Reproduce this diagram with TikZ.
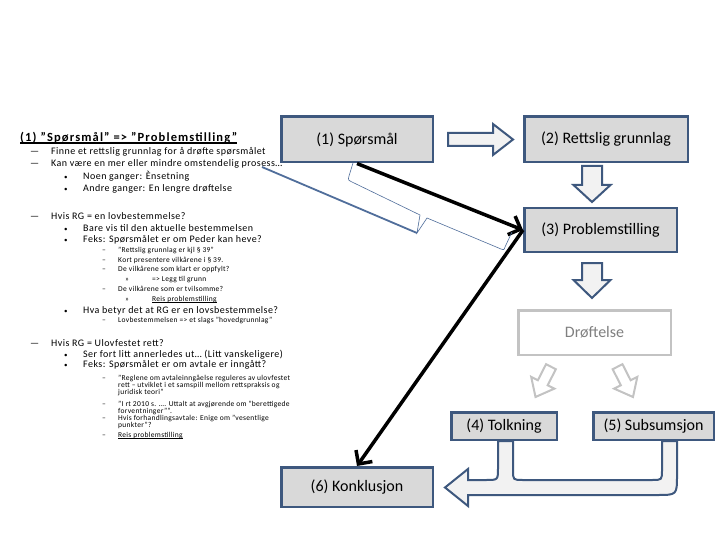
\documentclass[tikz,border=0pt]{standalone}
\usepackage{fontspec}
\setmainfont{Carlito}
\usetikzlibrary{arrows.meta, calc}

\definecolor{boksblaa}{RGB}{62,88,126}
\definecolor{boksgraa}{RGB}{217,217,217}
\definecolor{pilfyll}{RGB}{242,242,242}
\definecolor{svakgraa}{RGB}{195,195,195}
\definecolor{tekstgraa}{RGB}{128,128,128}
\definecolor{kalleblaa}{RGB}{80,110,155}

\newsavebox{\strekboks}
\newcommand{\medstrek}[2]{\sbox{\strekboks}{#2}\rlap{\rule[-1.8pt]{\wd\strekboks}{#1}}\usebox{\strekboks}}
\newcommand{\punkt}{{\fontsize{7}{7}\selectfont•}}

\begin{document}
\begin{tikzpicture}[x=1pt, y=-1pt,
    boks/.style      = {rectangle, draw=boksblaa, line width=2.5pt, fill=boksgraa, inner sep=0pt,
                        font=\fontsize{16}{19}\selectfont},
    svakboks/.style  = {rectangle, draw=svakgraa, line width=2.5pt, fill=white, inner sep=0pt,
                        text=tekstgraa, font=\fontsize{16}{19}\selectfont},
    blokkpil/.style  = {draw=boksblaa, line width=2pt, fill=pilfyll, line join=miter},
    svakpil/.style   = {draw=svakgraa, line width=2pt, fill=white, line join=miter},
    pil/.style       = {-{Straight Barb[length=10pt, width=20pt]}, line width=3.5pt, black},
    kallelinje/.style= {draw=kalleblaa, line width=1.8pt},
    klamme/.style    = {draw=kalleblaa, line width=0.6pt},
    overskrift/.style= {anchor=base west, inner sep=0pt,
                        font=\fontsize{12.5}{14}\selectfont\bfseries\addfontfeature{LetterSpace=9}},
    nivaa1/.style    = {anchor=base west, inner sep=0pt,
                        font=\fontsize{10}{12}\selectfont\addfontfeature{LetterSpace=4.5}},
    nivaa3/.style    = {anchor=base west, inner sep=0pt,
                        font=\fontsize{7.5}{7.2}\selectfont\addfontfeature{LetterSpace=4}},
]

\fill[white] (0,0) rectangle (720,540);
\useasboundingbox (0,0) rectangle (720,540);

% Bokser
\node[boks, minimum width=151.5pt, minimum height=45.5pt] (b1) at (357,139.5) {(1) Spørsmål};
\node[boks, minimum width=163.5pt, minimum height=45.5pt] (b2) at (606,139.5) {(2) Rettslig grunnlag};
\node[boks, minimum width=152.5pt, minimum height=43.5pt] (b3) at (600.5,230) {(3) Problemstilling};
\node[svakboks, minimum width=152.5pt, minimum height=44.5pt] (dr) at (594.5,332.5) {Drøftelse};
\node[boks, minimum width=105.5pt, minimum height=27.5pt] (b4) at (504,426) {(4) Tolkning};
\node[boks, minimum width=120.5pt, minimum height=27.5pt] (b5) at (653.5,426) {(5) Subsumsjon};
\node[boks, minimum width=151.5pt, minimum height=39.5pt] (b6) at (357,487) {(6) Konklusjon};

% Blokkpiler
\draw[blokkpil] ($(b1.east)+(14,-6.5)$) -- ++(45,0) -- ++(0,-9) -- ++(20,15.5) -- ++(-20,15.5)
    -- ++(0,-9) -- ++(-45,0) -- cycle;
\draw[blokkpil] ($(b3.north)+(-8.5,-5)$) -- ++(-18.5,-17) -- ++(8.5,0) -- ++(0,-19) -- ++(20,0)
    -- ++(0,19) -- ++(8.5,0) -- cycle;
\draw[blokkpil] ($(dr.north)+(-2.5,-11)$) -- ++(-18.5,-18) -- ++(8.5,0) -- ++(0,-17) -- ++(20,0)
    -- ++(0,17) -- ++(8.5,0) -- cycle;
\draw[svakpil, shift={($(dr.south)+(-59,41)$)}, rotate=-27]
    (0,0) -- (-13,-16) -- (-5.5,-16) -- (-5.5,-34) -- (5.5,-34) -- (5.5,-16) -- (13,-16) -- cycle;
\draw[svakpil, shift={($(dr.south)+(38.5,41)$)}, rotate=27]
    (0,0) -- (-13,-16) -- (-5.5,-16) -- (-5.5,-34) -- (5.5,-34) -- (5.5,-16) -- (13,-16) -- cycle;

% Bøyd pil fra (4) og (5) til (6)
\draw[blokkpil] (498,441) -- (498,468) .. controls (498,480) .. (486,480) -- (468,480) -- (468,469)
    -- (445,487.5) -- (468,506) -- (468,495) -- (657,495) .. controls (677,495) .. (677,475)
    -- (677,441) -- (662,441) -- (662,470) .. controls (662,480) .. (652,480) -- (523,480)
    .. controls (513,480) .. (513,470) -- (513,441) -- cycle;

% Sorte piler
\draw[pil] (b1.south) -- (b3.west);
\draw[pil] (b3.west) -- (b6.north);

% Tekst
\node[overskrift] (t0) at (20,142) {\medstrek{1.3pt}{(1) ”Spørsmål” => ”Problemstilling”}};
\node[nivaa1] (t1) at (30,155) {\makebox[21pt][l]{—}Finne et rettslig grunnlag for å drøfte spørsmålet};
\node[nivaa1] (t2) at (30,167) {\makebox[21pt][l]{—}Kan være en mer eller mindre omstendelig prosess…};
\node[nivaa1] (t3) at (64,180) {\makebox[19pt][l]{\punkt}Noen ganger: Ènsetning};
\node[nivaa1] (t4) at (64,192) {\makebox[19pt][l]{\punkt}Andre ganger: En lengre drøftelse};

\node[nivaa1] (t5) at (30,219) {\makebox[21pt][l]{—}Hvis RG = en lovbestemmelse?};
\node[nivaa1] (t6) at (64,231) {\makebox[19pt][l]{\punkt}Bare vis til den aktuelle bestemmelsen};
\node[nivaa1] (t7) at (64,242) {\makebox[19pt][l]{\punkt}Feks: Spørsmålet er om Peder kan heve?};
\node[nivaa3] (t8) at (102,252) {\makebox[16pt][l]{–}”Rettslig grunnlag er kjl § 39”};
\node[nivaa3] (t9) at (102,262) {\makebox[16pt][l]{–}Kort presentere vilkårene i § 39.};
\node[nivaa3] (t10) at (102,271) {\makebox[16pt][l]{–}De vilkårene som klart er oppfylt?};
\node[nivaa3] (t11) at (125,281) {\makebox[27pt][l]{»}=> Legg til grunn};
\node[nivaa3] (t12) at (102,291) {\makebox[16pt][l]{–}De vilkårene som er tvilsomme?};
\node[nivaa3] (t13) at (125,301) {\makebox[27pt][l]{»}\medstrek{0.8pt}{Reis problemstilling}};
\node[nivaa1] (t14) at (64,313) {\makebox[19pt][l]{\punkt}Hva betyr det at RG er en lovsbestemmelse?};
\node[nivaa3] (t15) at (102,322) {\makebox[16pt][l]{–}Lovbestemmelsen => et slags ”hovedgrunnlag”};

\node[nivaa1] (t16) at (30,346) {\makebox[21pt][l]{—}Hvis RG = Ulovfestet rett?};
\node[nivaa1] (t17) at (64,357) {\makebox[19pt][l]{\punkt}Ser fort litt annerledes ut… (Litt vanskeligere)};
\node[nivaa1] (t18) at (64,367) {\makebox[19pt][l]{\punkt}Feks: Spørsmålet er om avtale er inngått?};
\node[nivaa3] (t19) at (102,380) {\makebox[16pt][l]{–}\begin{tabular}[t]{@{}l@{}}”Reglene om avtaleinngåelse reguleres av ulovfestet\\
    rett – utviklet i et samspill mellom rettspraksis og\\ juridisk teori”\end{tabular}};
\node[nivaa3] (t20) at (102,406) {\makebox[16pt][l]{–}\begin{tabular}[t]{@{}l@{}}”I rt 2010 s. …. Uttalt at avgjørende om ”berettigede\\
    forventninger””.\end{tabular}};
\node[nivaa3] (t21) at (102,420) {\makebox[16pt][l]{–}\begin{tabular}[t]{@{}l@{}}Hvis forhandlingsavtale: Enige om ”vesentlige\\
    punkter”?\end{tabular}};
\node[nivaa3] (t22) at (102,437) {\makebox[16pt][l]{–}\medstrek{0.8pt}{Reis problemstilling}};

% Klamme og kallelinje
\coordinate (kall) at (262,167);
\coordinate (spiss) at (417,233);
\draw[klamme] (353,163) -- (349,176) .. controls (348,180) .. (352,182) -- (420,215) -- (spiss)
    -- (427,218) -- (501,249) .. controls (504,250) .. (505,247) -- (512,232);
\draw[kallelinje] (kall) -- (spiss);

\end{tikzpicture}
\end{document}
